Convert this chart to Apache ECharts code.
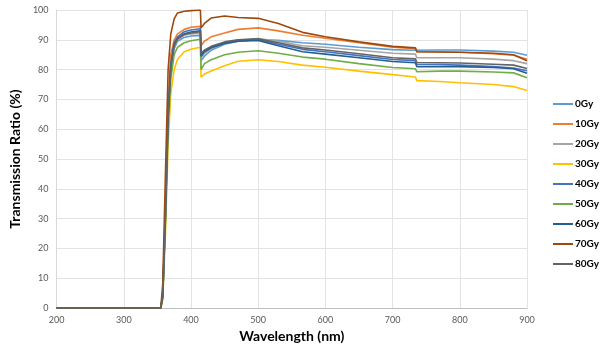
<!DOCTYPE html>
<html>
<head>
<meta charset="utf-8">
<script src="https://cdn.jsdelivr.net/npm/echarts@6/dist/echarts.min.js"></script>
<style>
  html, body { margin: 0; padding: 0; background: #fff; }
  #chart { width: 605px; height: 349px; }
</style>
</head>
<body>
<div id="chart"></div>
<script>
// wavelength sample points (nm), shared by all series
const wavelengths = [200, 310, 312, 315, 355, 358, 362, 366, 370, 375, 380, 390, 400, 414, 415, 420, 430, 450, 470, 500, 530, 566, 600, 650, 700, 734, 736, 770, 800, 850, 880, 900];

const names = ['0Gy', '10Gy', '20Gy', '30Gy', '40Gy', '50Gy', '60Gy', '70Gy', '80Gy'];
const colors = ['#5B9BD5', '#ED7D31', '#A5A5A5', '#FFC000', '#4472C4', '#70AD47', '#255E91', '#9E480E', '#636363'];

// transmission ratio (%)
const t0Gy  = [0, 0, 0.3, 0, 0, 4, 30, 62, 80, 87, 89.5, 90.8, 91.3, 91.5, 83, 84.5, 86.5, 88.5, 89.5, 90, 89.8, 89, 88.5, 87.5, 86.7, 86.5, 86.4, 86.6, 86.6, 86.2, 85.8, 84.8];
const t10Gy = [0, 0, 0.3, 0, 0, 5, 35, 70, 85, 90, 92, 93.5, 94.2, 94.5, 88, 89.5, 91, 92.3, 93.5, 94, 93, 91.5, 90.5, 89, 87.5, 87, 86, 85.9, 85.8, 85.3, 84.8, 83.5];
const t20Gy = [0, 0, 0.3, 0, 0, 4, 30, 63, 81, 88, 90, 91.5, 92, 92.2, 84, 85.5, 87, 88.8, 89.8, 90.4, 89.5, 88, 87.5, 86.5, 85.5, 85.2, 84, 84, 84, 83.5, 83, 82];
const t30Gy = [0, 0, 0.3, 0, 0, 3, 25, 55, 72, 80, 83.5, 86, 86.8, 87.5, 77.5, 78.5, 79.5, 81.3, 82.8, 83.3, 82.7, 81.5, 80.8, 79.5, 78.3, 77.5, 76.3, 76, 75.6, 75, 74.3, 73];
const t40Gy = [0, 0, 0.3, 0, 0, 4, 32, 65, 82, 89, 91, 92.7, 93.3, 93.7, 85, 86.5, 87.5, 89, 89.8, 90.2, 88.5, 86.8, 86, 84.7, 83.4, 83, 81.8, 81.7, 81.5, 81, 80.5, 79.6];
const t50Gy = [0, 0, 0.3, 0, 0, 3, 28, 60, 77, 85, 87.5, 89, 89.7, 90.2, 80, 82, 83.3, 85, 85.8, 86.3, 85.5, 84.2, 83.5, 82, 80.7, 80.3, 79.3, 79.5, 79.5, 79.2, 78.9, 77.3];
const t60Gy = [0, 0, 0.3, 0, 0, 4, 31, 64, 81.5, 88.5, 90.5, 92, 92.6, 93, 84.5, 86, 87.3, 88.8, 89.5, 89.8, 88, 86, 85.2, 84, 82.7, 82.3, 81, 81, 81, 80.7, 80.3, 78.8];
const t70Gy = [0, 0, 0.6, 0, 0, 8, 45, 80, 92, 97, 99, 99.6, 99.8, 100, 94, 95.5, 97.3, 98, 97.5, 97.2, 95.5, 92.5, 91, 89.3, 87.8, 87.3, 86, 85.9, 85.8, 85.5, 85, 83];
const t80Gy = [0, 0, 0.3, 0, 0, 4, 31, 64, 81, 88, 90.3, 91.8, 92.3, 92.7, 85.5, 86.5, 87.8, 89.3, 90, 90.3, 89, 87.3, 86.6, 85.3, 84, 83.6, 82.4, 82.3, 82.2, 81.8, 81.5, 80.4];

const values = [t0Gy, t10Gy, t20Gy, t30Gy, t40Gy, t50Gy, t60Gy, t70Gy, t80Gy];

const chart = echarts.init(document.getElementById('chart'));

const series = names.map((name, i) => ({
  name: name,
  type: 'line',
  showSymbol: false,
  smooth: false,
  data: wavelengths.map((w, j) => [w, values[i][j]]),
  lineStyle: { color: colors[i], width: 1.6 },
  itemStyle: { color: colors[i] }
}));

chart.setOption({
  animation: false,
  textStyle: { fontFamily: 'Lato' },
  grid: { left: 51, right: 78, top: 10, bottom: 41 },
  legend: {
    orient: 'vertical',
    left: 548,
    top: 93,
    icon: 'rect',
    itemWidth: 20,
    itemHeight: 2,
    itemGap: 8,
    textStyle: { fontSize: 10, fontWeight: 'bold', color: '#000', lineHeight: 12, padding: [0, 0, 0, -3] },
    data: names
  },
  xAxis: {
    type: 'value',
    min: 200,
    max: 900,
    interval: 100,
    name: 'Wavelength (nm)',
    nameLocation: 'middle',
    nameGap: 21,
    nameTextStyle: { fontSize: 14, fontWeight: 'bold', color: '#000' },
    axisLine: { show: true, lineStyle: { color: '#BFBFBF' } },
    axisTick: { show: false },
    axisLabel: { fontSize: 9, color: '#595959', margin: 8 },
    splitLine: { show: true, lineStyle: { color: '#E3E3E3' } }
  },
  yAxis: {
    type: 'value',
    min: 0,
    max: 100,
    interval: 10,
    name: 'Transmission Ratio (%)',
    nameLocation: 'middle',
    nameGap: 25,
    nameTextStyle: { fontSize: 14, fontWeight: 'bold', color: '#000' },
    axisLine: { show: true, lineStyle: { color: '#D9D9D9' } },
    axisTick: { show: false },
    axisLabel: { fontSize: 9, color: '#595959', margin: 8 },
    splitLine: { show: true, lineStyle: { color: '#E3E3E3' } }
  },
  series: series
});
</script>
</body>
</html>
